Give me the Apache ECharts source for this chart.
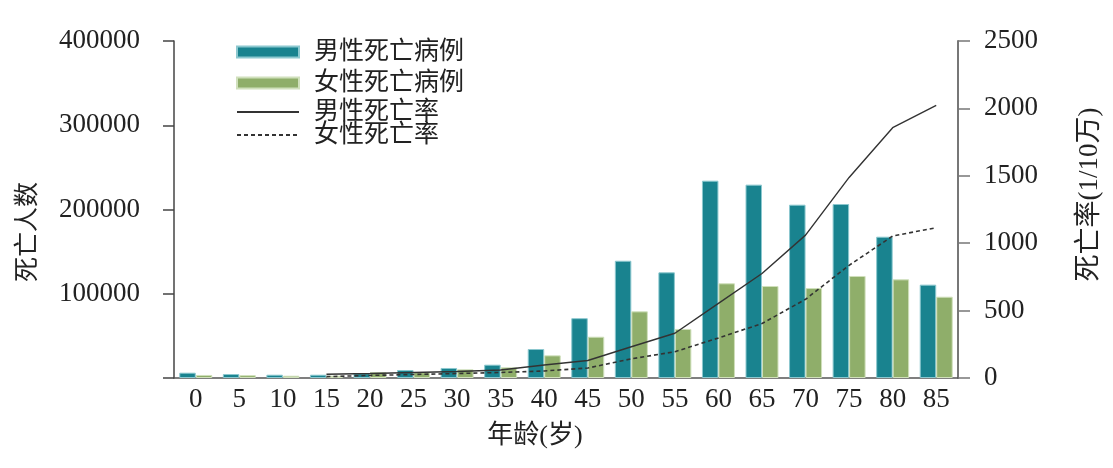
<!DOCTYPE html>
<html>
<head>
<meta charset="utf-8">
<title>死亡人数与死亡率</title>
<script src="https://cdn.jsdelivr.net/npm/echarts@6/dist/echarts.min.js"></script>
<style>
  html, body { margin: 0; padding: 0; background: #fff; }
  #chart { width: 1113px; height: 468px; }
</style>
</head>
<body>
<div id="chart"></div>
<script>
// age groups (years)
const ages = ['0', '5', '10', '15', '20', '25', '30', '35', '40', '45', '50', '55', '60', '65', '70', '75', '80', '85'];
// deaths
const maleDeaths = [6300, 4700, 3900, 3900, 5600, 9500, 11900, 15800, 34400, 71000, 139200, 125400, 234200, 229500, 205700, 206500, 167700, 110800];
const femaleDeaths = [3600, 3400, 2700, 2700, 7100, 6800, 10300, 12700, 26900, 49000, 79100, 58200, 112400, 109200, 106800, 121100, 117100, 96500];
// death rate, 1/100000
const maleRate = [null, null, null, 28, 33, 41, 48, 59, 96, 130, 232, 332, 554, 775, 1060, 1488, 1857, 2023];
const femaleRate = [null, null, null, 10, 19, 26, 33, 41, 52, 74, 142, 195, 297, 404, 584, 836, 1053, 1115];
// tick labels
const leftTicks = [0, 100000, 200000, 300000, 400000];
const rightTicks = [0, 500, 1000, 1500, 2000, 2500];

const font = "'Liberation Serif', 'Noto Sans CJK SC', serif";
const textColor = '#222';

const chart = echarts.init(document.getElementById('chart'));

function legendItem(name, top, h, isLine) {
  const lg = {
    data: [name],
    left: 236,
    top: top,
    padding: 0,
    orient: 'vertical',
    itemWidth: 62,
    itemHeight: h,
    selectedMode: false,
    textStyle: {
      fontFamily: font,
      fontSize: 25,
      color: textColor,
      lineHeight: 26,
      padding: [0, 0, 0, 10]
    }
  }
  // only the line, no marker, for the rate items
  if (isLine) lg.itemStyle = { opacity: 0 }
  else lg.icon = 'rect'
  return lg
}

chart.setOption({
  animation: false,
  grid: {
    left: 174,
    right: 155,
    top: 41,
    bottom: 90
  },
  legend: [
    legendItem('男性死亡病例', 39, 11, false),
    legendItem('女性死亡病例', 70, 11, false),
    legendItem('男性死亡率', 99, 14, true),
    legendItem('女性死亡率', 122, 14, true)
  ],
  xAxis: {
    type: 'category',
    data: ages,
    name: '年龄(岁)',
    nameLocation: 'middle',
    nameGap: 45,
    nameTextStyle: {
      fontFamily: font,
      fontSize: 26,
      color: textColor,
      padding: [0, 62, 0, 0]
    },
    axisLine: { lineStyle: { color: '#555', width: 1.5 } },
    axisTick: { show: false },
    axisLabel: {
      fontFamily: font,
      fontSize: 27,
      color: textColor,
      margin: 8,
      interval: 0
    }
  },
  yAxis: [
    {
      type: 'value',
      min: leftTicks[0],
      max: leftTicks[leftTicks.length - 1],
      interval: leftTicks[1] - leftTicks[0],
      name: '死亡人数',
      nameLocation: 'middle',
      nameRotate: 90,
      nameGap: 133,
      nameTextStyle: {
        fontFamily: font,
        fontSize: 25,
        color: textColor,
        padding: [0, 45, 0, 0]
      },
      splitLine: { show: false },
      axisLine: { show: true, lineStyle: { color: '#444', width: 1.5 } },
      axisTick: { show: true, length: 11, lineStyle: { color: '#444', width: 1.5 } },
      axisLabel: {
        fontFamily: font,
        fontSize: 27,
        color: textColor,
        margin: 34,
        formatter: function (v) { return v === 0 ? '' : String(v) }
      }
    },
    {
      type: 'value',
      position: 'right',
      min: rightTicks[0],
      max: rightTicks[rightTicks.length - 1],
      interval: rightTicks[1] - rightTicks[0],
      name: '死亡率(1/10万)',
      nameLocation: 'middle',
      nameRotate: 90,
      nameGap: 118,
      nameTextStyle: {
        fontFamily: font,
        fontSize: 27,
        color: textColor,
        padding: [0, 0, 0, 30]
      },
      splitLine: { show: false },
      axisLine: { show: true, lineStyle: { color: '#777', width: 2 } },
      axisTick: { show: true, length: 12, lineStyle: { color: '#777', width: 1.5 } },
      axisLabel: {
        fontFamily: font,
        fontSize: 27,
        color: textColor,
        margin: 26,
        formatter: function (v) { return String(v) }
      }
    }
  ],
  series: [
    {
      name: '男性死亡病例',
      type: 'bar',
      data: maleDeaths,
      barWidth: 16.5,
      barGap: '0%',
      itemStyle: {
        color: '#19838f',
        borderColor: '#8cc8cf',
        borderWidth: 1
      }
    },
    {
      name: '女性死亡病例',
      type: 'bar',
      data: femaleDeaths,
      barWidth: 16.5,
      barGap: '0%',
      itemStyle: {
        color: '#8fae6a',
        borderColor: '#d0e0bc',
        borderWidth: 1
      }
    },
    {
      name: '男性死亡率',
      type: 'line',
      yAxisIndex: 1,
      data: maleRate,
      symbol: 'none',
      itemStyle: { color: '#333' },
      lineStyle: { color: '#333', width: 1.4 }
    },
    {
      name: '女性死亡率',
      type: 'line',
      yAxisIndex: 1,
      data: femaleRate,
      symbol: 'none',
      itemStyle: { color: '#333' },
      lineStyle: { color: '#333', width: 1.6, type: [4, 3] }
    }
  ]
});
</script>
</body>
</html>
